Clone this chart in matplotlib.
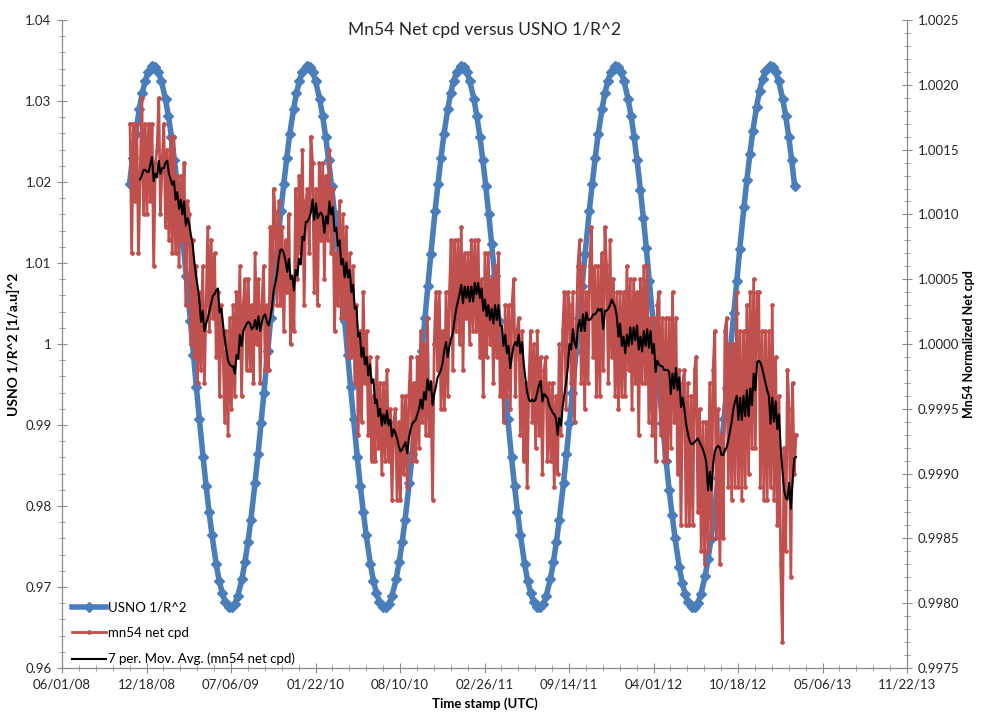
import numpy as np
import pandas as pd
import matplotlib
matplotlib.use('Agg')  # no display
import matplotlib.pyplot as plt
import matplotlib.dates as mdates
from matplotlib.ticker import FixedLocator, MultipleLocator, FuncFormatter

plt.rcParams['font.family'] = ['Lato', 'DejaVu Sans']

# USNO 1/R^2, read on the 1st, 8th, 15th and 22nd of each month
usno_2008 = [1.0198, 1.0230, 1.0259,
             1.0290, 1.0310, 1.0325, 1.0336]
usno_2009 = [1.0343, 1.0342, 1.0336, 1.0325, 1.0302, 1.0281, 1.0256, 1.0227,
             1.0195, 1.0160, 1.0123, 1.0084, 1.0028, 0.9987, 0.9947, 0.9908,
             0.9860, 0.9825, 0.9793, 0.9764, 0.9728, 0.9708, 0.9693, 0.9682,
             0.9675, 0.9675, 0.9679, 0.9689, 0.9710, 0.9731, 0.9755, 0.9783,
             0.9829, 0.9864, 0.9902, 0.9940, 0.9992, 1.0032, 1.0072, 1.0111,
             1.0164, 1.0198, 1.0230, 1.0259, 1.0290, 1.0310, 1.0325, 1.0336]
usno_2010 = [1.0343, 1.0342, 1.0336, 1.0325, 1.0302, 1.0281, 1.0256, 1.0227,
             1.0195, 1.0160, 1.0123, 1.0084, 1.0028, 0.9987, 0.9947, 0.9908,
             0.9860, 0.9825, 0.9793, 0.9764, 0.9728, 0.9708, 0.9693, 0.9682,
             0.9675, 0.9675, 0.9679, 0.9689, 0.9710, 0.9731, 0.9755, 0.9783,
             0.9829, 0.9864, 0.9902, 0.9940, 0.9992, 1.0032, 1.0072, 1.0111,
             1.0164, 1.0198, 1.0230, 1.0259, 1.0290, 1.0310, 1.0325, 1.0336]
usno_2011 = [1.0343, 1.0342, 1.0336, 1.0325, 1.0302, 1.0281, 1.0256, 1.0227,
             1.0195, 1.0160, 1.0123, 1.0084, 1.0028, 0.9987, 0.9947, 0.9908,
             0.9860, 0.9825, 0.9793, 0.9764, 0.9728, 0.9708, 0.9693, 0.9682,
             0.9675, 0.9675, 0.9679, 0.9689, 0.9710, 0.9731, 0.9755, 0.9783,
             0.9829, 0.9864, 0.9902, 0.9940, 0.9992, 1.0032, 1.0072, 1.0111,
             1.0164, 1.0198, 1.0230, 1.0259, 1.0290, 1.0310, 1.0325, 1.0336]
usno_2012 = [1.0343, 1.0342, 1.0336, 1.0325, 1.0302, 1.0281, 1.0256, 1.0227,
             1.0190, 1.0155, 1.0118, 1.0078, 1.0022, 0.9981, 0.9941, 0.9903,
             0.9855, 0.9820, 0.9789, 0.9760, 0.9725, 0.9705, 0.9691, 0.9681,
             0.9675, 0.9675, 0.9680, 0.9691, 0.9713, 0.9734, 0.9759, 0.9787,
             0.9834, 0.9869, 0.9908, 0.9946, 0.9998, 1.0038, 1.0078, 1.0117,
             1.0169, 1.0203, 1.0234, 1.0263, 1.0293, 1.0313, 1.0327, 1.0337]
usno_2013 = [1.0343, 1.0342, 1.0336, 1.0325, 1.0302, 1.0281, 1.0256, 1.0227,
             1.0195]

# mn54 net counts per day, normalized; offset from 1 in units of 1e-4, every 4 days
mn54_offset = [
    17, 7, 17, 11, 17, 7, 13, 19, 10, 17,
    10, 17, 11, 17, 6, 14, 15, 19, 10, 14,
    17, 9, 15, 8, 16, 7, 16, 7, 13, 6,
    13, 8, 14, 3, 11, 10, 0, 8, -1, 6,
    -3, 4, -2, 6, -3, 3, 9, 1, 8, 2,
    7, -1, 4, -4, 3, 0, -6, 1, -7, 2,
    -5, 3, -4, 4, -1, 6, -4, 3, 5, -2,
    5, -2, 3, -3, 7, 0, 5, -3, 3, 6,
    -2, 3, -2, 9, 3, 12, 10, 3, 11, 3,
    9, 1, 8, 4, 10, 0, 5, 1, 12, 5,
    13, 7, 15, 3, 11, 12, 7, 16, 14, 4,
    12, 3, 14, 8, 14, 5, 13, 8, 15, 7,
    12, 1, 7, 3, 11, 2, 10, 2, 9, -1,
    7, -1, 6, -3, 3, -7, 1, -6, 4, -3,
    1, -7, -1, -9, -4, -9, -1, -8, -3, -10,
    -3, -9, -2, -9, -5, -12, -6, -5, -12, -6,
    -12, -4, -10, -4, -11, -4, -1, -9, -3, -9,
    -1, -8, 1, -6, 0, -7, 2, -7, -3, -12,
    0, 4, -2, 4, -5, 1, -5, 4, -4, 4,
    8, -2, 8, 1, 8, 0, 9, -2, 7, 2,
    7, 0, 8, 1, 8, 1, 8, -1, 5, -4,
    7, -1, 7, 0, 5, -3, 6, -1, 7, -4,
    0, -6, 3, -4, 3, -5, 3, 5, -4, 1,
    2, -7, 1, -9, -3, -11, -3, 1, -6, 0,
    -8, 1, -7, -1, -10, -2, -1, -9, -3, -9,
    -3, -11, -4, -10, 0, -7, 1, 4, -5, 4,
    3, -3, 4, -6, 1, 6, 8, -3, 6, -5,
    4, -3, 6, 9, -1, 6, -4, 6, -4, 7,
    -2, 9, 6, -3, 8, -1, 5, -4, 4, -5,
    4, -4, 4, -4, 6, -2, 5, -5, 5, -3,
    4, -7, 5, -3, 6, -3, 6, -6, 2, -7,
    2, -9, 3, 4, -7, 2, -9, 2, -9, 2,
    -8, 4, -6, 2, -10, -2, -14, -3, -2, -14,
    -3, -14, -4, -14, -2, -1, -13, -5, -16, -6,
    -17, -6, -16, -3, -15, -2, 1, -15, -5, -17,
    -7, -15, 1, 2, -11, 0, -12, 0, -11, 4,
    -11, 1, -12, 1, -11, 3, -10, 4, -8, 5,
    -8, 4, 4, -11, 1, -12, 1, -12, 1, -11,
    3, -12, -1, -14, -4, -17, -23, -8, -16, -2,
    -5, -18, -3, -10, -7,
]

usno = usno_2008 + usno_2009 + usno_2010 + usno_2011 + usno_2012 + usno_2013
usno_dates = [pd.Timestamp(y, m, d) for y in range(2008, 2014)
              for m in range(1, 13) for d in (1, 8, 15, 22)]
usno_dates = [t for t in usno_dates
              if pd.Timestamp('2008-11-08') <= t <= pd.Timestamp('2013-03-01')]

mn54_dates = pd.date_range('2008-11-09', periods=len(mn54_offset), freq='4D')
mn54_net = 1 + np.array(mn54_offset) * 1e-4
mn54_avg = pd.Series(mn54_net).rolling(7).mean()

BLUE = '#4a7ebb'
RED = '#c0504d'
AXIS = '#8c8c8c'

fig = plt.figure(figsize=(9.81, 7.13), dpi=100)
ax = fig.add_axes([0.0632, 0.0631, 0.8614, 0.9088])
ax2 = ax.twinx()

l1, = ax.plot(usno_dates, usno, color=BLUE, lw=4.0, marker='D', ms=5,
              mec=BLUE, label='USNO 1/R^2')
l2, = ax2.plot(mn54_dates, mn54_net, color=RED, lw=2.0, marker='o', ms=2.4,
               label='mn54 net cpd')
l3, = ax2.plot(mn54_dates, mn54_avg, color='black', lw=1.5,
               label='7 per. Mov. Avg. (mn54 net cpd)')

ax.set_ylim(0.96, 1.04)
ax2.set_ylim(0.9975, 1.0025)
ax.set_xlim(pd.Timestamp('2008-06-01'), pd.Timestamp('2013-11-22'))

major = mdates.date2num(pd.date_range('2008-06-01', '2013-11-22', freq='200D'))
minor = mdates.date2num(pd.date_range('2008-06-01', '2013-11-22', freq='40D'))
ax.xaxis.set_major_locator(FixedLocator(major))
ax.xaxis.set_minor_locator(FixedLocator(minor))
ax.xaxis.set_major_formatter(mdates.DateFormatter('%m/%d/%y'))

ax.yaxis.set_major_locator(MultipleLocator(0.01))
ax.yaxis.set_minor_locator(MultipleLocator(0.002))
ax.yaxis.set_major_formatter(FuncFormatter(lambda v, p: f'{v:g}'))
ax2.yaxis.set_major_locator(MultipleLocator(0.0005))
ax2.yaxis.set_minor_locator(MultipleLocator(0.0001))
ax2.yaxis.set_major_formatter(FuncFormatter(lambda v, p: f'{v:.4f}'))

for a in (ax, ax2):
    for s in a.spines.values():
        s.set_color(AXIS)
        s.set_linewidth(0.9)
    a.spines['top'].set_visible(False)
ax.spines['right'].set_visible(False)
ax2.spines['left'].set_visible(False)
ax2.spines['bottom'].set_visible(False)

ax.tick_params(which='major', direction='inout', length=7, color=AXIS,
               labelsize=9.5, labelcolor='#262626', pad=4)
ax.tick_params(which='minor', direction='inout', length=4, color=AXIS)
ax2.tick_params(which='major', direction='inout', length=7, color=AXIS,
                labelsize=9.5, labelcolor='#262626', pad=4)
ax2.tick_params(which='minor', direction='inout', length=4, color=AXIS)

ax.set_ylabel('USNO 1/R^2 [1/a.u]^2', fontsize=10, fontweight='bold')
ax.yaxis.set_label_coords(-0.050, 0.5)
ax2.set_ylabel('Mn54 Normalized Net cpd', fontsize=9, fontweight='bold')
ax2.yaxis.set_label_coords(1.066, 0.5)
ax.set_xlabel('Time stamp (UTC)', fontsize=9.5, fontweight='bold')
ax.xaxis.set_label_coords(0.5, -0.045)

fig.text(485 / 981, 1 - 30 / 713, 'Mn54 Net cpd versus USNO 1/R^2',
         ha='center', va='center', fontsize=12.5, color='#262626')

ax2.legend(handles=[l1, l2, l3], loc='lower left', bbox_to_anchor=(0.012, 0.004),
           frameon=False, fontsize=9.5, handlelength=2.6, handletextpad=0.1,
           labelspacing=1.05, borderpad=0, borderaxespad=0)

fig.savefig('out.png', dpi=100)
